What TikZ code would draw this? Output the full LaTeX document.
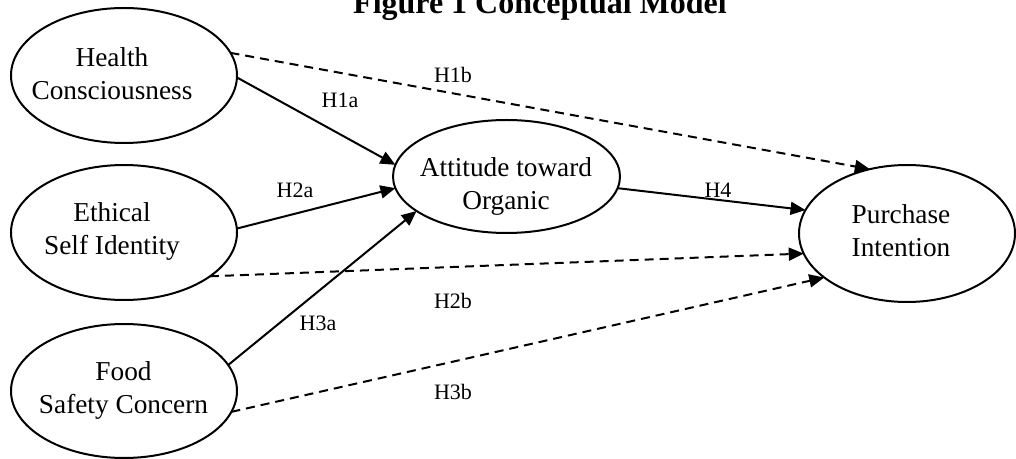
\documentclass[tikz,border=0pt]{standalone}
\usepackage{fontspec}
\setmainfont{Liberation Serif}
\usepackage{tikz}
\usetikzlibrary{positioning,arrows.meta,shapes.geometric}

\begin{document}
\begin{tikzpicture}[x=0.5pt,y=-0.5pt]
  \tikzset{ConstructStyle/.style = {
    shape         = ellipse,
    draw          = black,
    fill          = white,
    line width    = 1pt,
    inner sep     = 0pt,
    outer sep     = 0pt
    }
  }
  \tikzset{NameStyle/.style = {
    text          = black,
    align         = center,
    inner sep     = 0pt,
    font          = \fontsize{13.65}{16.5}\selectfont
    }
  }
  \tikzset{LabelStyle/.style = {
    inner sep     = 0pt,
    font          = \fontsize{11}{13}\selectfont
    }
  }
  \tikzset{PathStyle/.style = {
    draw          = black,
    line width    = 1pt,
    -{Triangle[length=7.5pt,width=6.5pt]}
    }
  }
  \tikzset{HypStyle/.style = {
    PathStyle,
    dash pattern  = on 4.5pt off 3pt
    }
  }
  \useasboundingbox (0,0) rectangle (1016,459);

	\node[font=\bfseries\fontsize{16}{19}\selectfont, anchor=base](title) at (540,14) {Figure 1 Conceptual Model};
	%
	\node[ConstructStyle, minimum width=113pt, minimum height=67.5pt](HC) at (124,75.5) {};
	\node[ConstructStyle, minimum width=113pt, minimum height=67.5pt](ES) at (124,232.5) {};
	\node[ConstructStyle, minimum width=113pt, minimum height=67pt](FS) at (124,391) {};
	\node[ConstructStyle, minimum width=113.5pt, minimum height=56.5pt](AO) at (506.5,176.5) {};
	\node[ConstructStyle, minimum width=108pt, minimum height=68.5pt](PI) at (907,233.5) {};
	%
	\node[NameStyle](HCtext) at (112,74) {Health\\Consciousness};
	\node[NameStyle](EStext) at (112,231) {Ethical\\Self Identity};
	\node[NameStyle](FStext) at (123.5,390) {Food\\Safety Concern};
	\node[NameStyle](AOtext) at (506,186) {Attitude toward\\Organic};
	\node[NameStyle](PItext) at (901,231) {Purchase\\Intention};
	%
	\node[LabelStyle](H1a) at (340,100) {H1a};
	\node[LabelStyle](H1b) at (453,75) {H1b};
	\node[LabelStyle](H2a) at (295,190) {H2a};
	\node[LabelStyle](H2b) at (453,301) {H2b};
	\node[LabelStyle](H3a) at (318,323) {H3a};
	\node[LabelStyle](H3b) at (453,392) {H3b};
	\node[LabelStyle](H4) at (718,190) {H4};
	%
	\draw[PathStyle](HC.-1) to (AO.174);
	\draw[PathStyle](ES.2) to (AO.186);
	\draw[PathStyle](FS.14.5) to (AO.201.6);
	\draw[PathStyle](AO.-6) to (PI.167.8);
	\draw[HypStyle](HC.12) to (PI.120.6);
	\draw[HypStyle](ES.-27) to (PI.191.8);
	\draw[HypStyle](FS.-11.2) to (PI.208.4);

\end{tikzpicture}
\end{document}
